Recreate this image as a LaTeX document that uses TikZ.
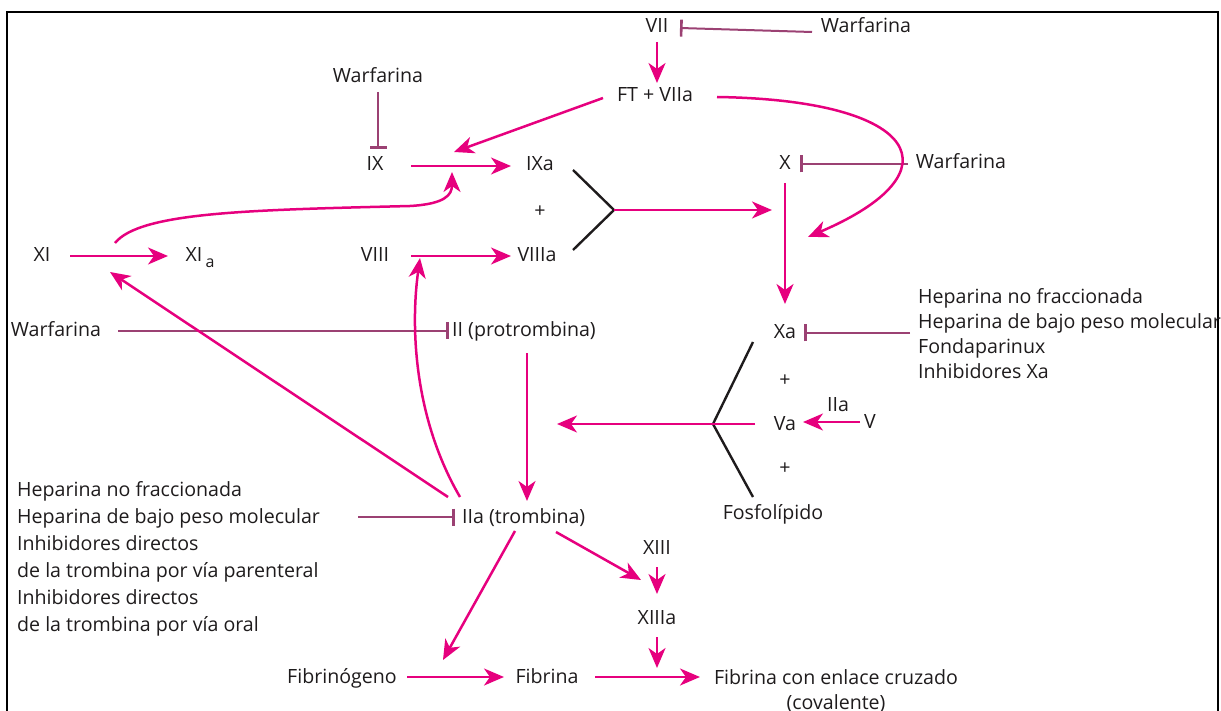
\documentclass[tikz,border=0pt]{standalone}
\usepackage{fontspec}
\setmainfont{Open Sans}
\usetikzlibrary{arrows.meta}
\definecolor{pk}{RGB}{230,0,126}
\definecolor{inh}{RGB}{155,65,115}
\definecolor{txt}{RGB}{30,27,28}
\begin{document}
\begin{tikzpicture}[x=1pt,y=-1pt,
  lbl/.style={font=\fontsize{19.6}{25}\selectfont, inner sep=0pt, text=txt, anchor=base},
  arr/.style={draw=pk, line width=2.5pt, -{Stealth[length=20pt,width=17pt,inset=6pt]}},
  inhl/.style={draw=inh, line width=2pt, -{Bar[width=17pt,line width=2.6pt]}},
  brk/.style={draw=txt, line width=2.4pt},
]
\useasboundingbox (0,0) rectangle (1221,711);
\draw[line width=2.8pt] (7,740) -- (7,12) -- (1218,12) -- (1218,740);

% nodes
\node[lbl] (VII) at (657,33) {VII};
\node[lbl] (W1) at (866,33) {Warfarina};
\node[lbl] (FT) at (655,102) {FT + VIIa};
\node[lbl] (W2) at (378,83) {Warfarina};
\node[lbl] (IX) at (375,171) {IX};
\node[lbl] (IXa) at (540,171) {IXa};
\node[lbl] (plus1) at (540,218) {+};
\node[lbl] (VIII) at (375,262) {VIII};
\node[lbl] (VIIIa) at (537,262) {VIIIa};
\node[lbl] (X) at (785,170) {X};
\node[lbl] (W3) at (961,169) {Warfarina};
\node[lbl] (Xa) at (785,338) {Xa};
\node[lbl, anchor=west, align=left] (Xinh) at (918,334)
  {Heparina no fraccionada\\Heparina de bajo peso molecular\\Fondaparinux\\Inhibidores Xa};
\node[lbl] (plus2) at (785,386) {+};
\node[lbl] (Va) at (785,430) {Va};
\node[lbl] (plus3) at (785,474) {+};
\node[lbl] (Fosf) at (773,519) {Fosfolípido};
\node[lbl] (IIb) at (838,411) {IIa};
\node[lbl] (V) at (870,428) {V};
\node[lbl] (XI) at (42,262) {XI};
\node[lbl] (XIa) at (200,262) {XI\,\raisebox{-6pt}{\fontsize{16}{16}\selectfont a}};
\node[lbl] (W4) at (56,337) {Warfarina};
\node[lbl, anchor=base west] (II) at (452,337) {II (protrombina)};
\node[lbl, anchor=base west] (IIa) at (462,523) {IIa (trombina)};
\node[lbl, anchor=west, align=left, font=\fontsize{19.6}{27}\selectfont] (Tinh) at (17,559)
  {Heparina no fraccionada\\Heparina de bajo peso molecular\\Inhibidores directos\\de la trombina por vía parenteral\\Inhibidores directos\\de la trombina por vía oral};
\node[lbl] (XIII) at (657,554) {XIII};
\node[lbl] (XIIIa) at (657,624) {XIIIa};
\node[lbl] (Fbg) at (342,683) {Fibrinógeno};
\node[lbl] (Fb) at (547,683) {Fibrina};
\node[lbl, anchor=north, align=center] (FbX) at (836,669) {Fibrina con enlace cruzado\\(covalente)};

% inhibitions
\draw[inhl] ([shift={(-54,-1)}]W1.base) -- ([shift={(23,-5)}]VII.base);
\draw[inhl] ([shift={(0,9)}]W2.base) -- ([shift={(3,-22)}]IX.base);
\draw[inhl] ([shift={(-53,-5)}]W3.base) -- ([shift={(15,-6)}]X.base);
\draw[inhl] ([shift={(-8,-1)}]Xinh.west) -- ([shift={(19,-5)}]Xa.base);
\draw[inhl] ([shift={(62,-6)}]W4.base) -- ([shift={(-3,-6)}]II.base west);
\draw[inhl] ([shift={(341,-42)}]Tinh.west) -- ([shift={(-7,-6)}]IIa.base west);

% brackets
\draw[brk] ([shift={(33,-1)}]IXa.base) -- ([shift={(74,-8)}]plus1.base) coordinate (v1) -- ([shift={(36,-12)}]VIIIa.base);
\draw[brk] ([shift={(-32,4)}]Xa.base) -- ([shift={(-72,-6)}]Va.base) -- ([shift={(-20,-22)}]Fosf.base);

% activation arrows
\draw[arr] ([shift={(0,9)}]VII.base) -- ([shift={(2,-19)}]FT.base);
\draw[arr] ([shift={(-52,-4)}]FT.base) -- ([shift={(79,-19)}]IX.base);
\draw[arr] ([shift={(62,-5)}]FT.base) .. controls (920,100) and (960,172) .. ([shift={(23,67)}]X.base);
\draw[arr] ([shift={(36,-5)}]IX.base) -- ([shift={(-29,-5)}]IXa.base);
\draw[arr] ([shift={(73,-19)}]XI.base) .. controls (140,212) and (250,210) .. (410,206) .. controls (445,204) and (452,195) .. ([shift={(77,1)}]IX.base);
\draw[arr] ([shift={(36,-6)}]VIII.base) -- ([shift={(-26,-6)}]VIIIa.base);
\draw[arr] (v1) -- ([shift={(-13,40)}]X.base);
\draw[arr] ([shift={(0,13)}]X.base) -- ([shift={(0,-34)}]Xa.base);
\draw[arr] ([shift={(-30,-6)}]Va.base) -- ([shift={(-228,-6)}]Va.base);
\draw[arr] ([shift={(-10,-6)}]V.base) -- ([shift={(18,-8)}]Va.base);
\draw[arr] ([shift={(28,-6)}]XI.base) -- ([shift={(-32,-6)}]XIa.base);
\draw[arr] ([shift={(75,16)}]II.base west) -- ([shift={(65,-22)}]IIa.base west);
\draw[arr] ([shift={(-14,-26)}]IIa.base west) -- ([shift={(68,10)}]XI.base);
\draw[arr] ([shift={(-2,-26)}]IIa.base west) .. controls (415,420) and (410,330) .. ([shift={(45,-4)}]VIII.base);
\draw[arr] ([shift={(53,8)}]IIa.base west) -- ([shift={(101,-23)}]Fbg.base);
\draw[arr] ([shift={(94,9)}]IIa.base west) -- ([shift={(-16,26)}]XIII.base);
\draw[arr] ([shift={(0,13)}]XIII.base) -- ([shift={(0,-30)}]XIIIa.base);
\draw[arr] ([shift={(0,13)}]XIIIa.base) -- ([shift={(110,-15)}]Fb.base);
\draw[arr] ([shift={(65,-6)}]Fbg.base) -- ([shift={(-43,-6)}]Fb.base);
\draw[arr] ([shift={(48,-6)}]Fb.base) -- ([shift={(-136,8)}]FbX.north);
\end{tikzpicture}
\end{document}
